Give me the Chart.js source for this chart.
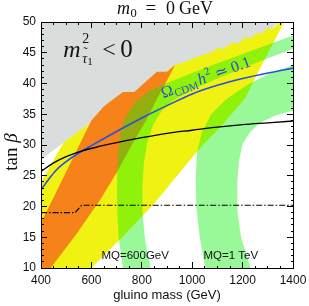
<!DOCTYPE html>
<html>
<head>
<meta charset="utf-8">
<script src="https://cdn.jsdelivr.net/npm/chart.js@4.4.0/dist/chart.umd.min.js"></script>
<style>
  html, body { margin: 0; padding: 0; background: #fff; }
  #wrap { width: 309px; height: 306px; }
</style>
</head>
<body>
<div id="wrap"><canvas id="chart"></canvas></div>
<script>
// gluino mass (GeV) vs tan(beta)
const xMajor = [400, 600, 800, 1000, 1200, 1400];
const yMajor = [10, 15, 20, 25, 30, 35, 40, 45, 50];

// grey: m^2(stau1) < 0 (lower edge hidden under yellow/orange past 590)
const stauRegion = [[400, 50], [1345, 50], [1210, 45], [1000, 41], [800, 37], [590, 33.4], [490, 30.4], [400, 27.6]];

const yellowBand = [[400, 24], [490, 30.4], [590, 33.4], [932, 43.0], [970, 43.5], [1010, 44.2], [1050, 44.7],
  [1084, 45.2], [1104, 45.9], [1117, 45.5], [1163, 46.7], [1177, 46.4], [1216, 47.6], [1229, 47.3],
  [1262, 48.3], [1276, 48.0], [1302, 49.1], [1315, 48.8], [1348, 50], [1365, 50], [1290, 44.1],
  [1210, 37.6], [1120, 33.3], [1031, 29.5], [940, 25.0], [845, 20.3], [720, 14.9], [600, 10], [400, 10]];

const orangeBand = [[400, 10], [438, 10], [540, 15.5], [635, 21.1], [700, 25.5], [760, 30], [810, 33.5],
  [860, 37.5], [900, 40.5], [932, 43.0], [900, 41.9], [860, 41.9], [770, 38.6], [725, 38.6],
  [650, 36.3], [600, 34.0], [400, 17.3]];

const mq600Band = [[725, 10], [708, 15], [702, 20], [702, 25], [706, 29], [716, 32], [735, 34.5], [770, 36.8],
  [830, 38.8], [900, 40.1], [1000, 41.7], [1100, 43.3], [1200, 44.8], [1300, 46.3], [1400, 47.8],
  [1400, 45.6], [1300, 44.1], [1200, 42.5], [1100, 40.8], [1000, 39.0], [930, 37.4], [880, 35.6],
  [845, 33.3], [822, 30.5], [808, 27], [802, 23], [803, 19], [813, 14.5], [835, 10]];

const mq1000Band = [[1052, 10], [1030, 15], [1016, 20], [1014, 25], [1020, 29], [1038, 32], [1075, 35],
  [1140, 37.6], [1220, 39.8], [1300, 41.5], [1400, 43], [1400, 35.6], [1330, 34.8], [1270, 33.6],
  [1230, 32.1], [1200, 30.2], [1186, 27.5], [1179, 24], [1180, 19], [1194, 15], [1232, 10]];

const omegaLine = [[400, 22.7], [430, 24.4], [460, 25.9], [500, 27.3], [550, 28.7], [600, 29.9], [700, 32.2],
  [800, 34.4], [900, 36.4], [1000, 38.3], [1100, 39.7], [1200, 40.8], [1300, 41.7], [1400, 42.5]];

const blackLine = [[400, 25.7], [450, 27.1], [500, 28.1], [560, 29.0], [635, 29.8], [700, 30.4], [800, 31.2],
  [900, 31.9], [1000, 32.4], [1100, 32.9], [1200, 33.3], [1300, 33.6], [1400, 33.9]];

const dashDotLine = [[400, 19.0], [535, 19.0], [561, 20.2], [1400, 20.2]];

const toPoints = arr => arr.map(([x, y]) => ({ x, y }));

function region(label, arr, color, order) {
  return {
    label, data: toPoints(arr), showLine: true, fill: 'shape',
    backgroundColor: color, borderWidth: 0, pointRadius: 0, pointHoverRadius: 0,
    tension: 0, order
  };
}

function curve(label, arr, color, width, dash, smooth) {
  return {
    label, data: toPoints(arr), showLine: true, fill: false,
    borderColor: color, borderWidth: width, borderDash: dash,
    pointRadius: 0, pointHoverRadius: 0,
    cubicInterpolationMode: smooth ? 'monotone' : 'default', tension: 0, order: 1
  };
}

const green = 'rgba(0, 240, 0, 0.4)';

// tick marks point inwards; minor ones drawn shorter through the dash pattern
const fromBorder = isMajor => ctx => isMajor(ctx.tick.value) ? [] : [3, 20];
const toBorder = isMajor => ctx => isMajor(ctx.tick.value) ? [] : [0, 3, 3, 20];
const xIsMajor = v => xMajor.includes(v);
const yIsMajor = v => yMajor.includes(v);

const tickFont = { family: '"Liberation Sans", Arial, sans-serif', size: 12 };

function axisGrid(dash) {
  return { drawOnChartArea: false, drawTicks: true, tickLength: -6, tickColor: '#000', tickWidth: 1, z: 1, tickBorderDash: dash };
}
const frame = { display: true, color: '#000', width: 1, z: 1 };

// keep the plot box where the figure has it
const fixHeight = h => s => { s.height = h; s.paddingLeft = 0; s.paddingRight = 0; };
const fixWidth = w => s => { s.width = w; s.paddingTop = 0; s.paddingBottom = 0; };

const serif = '"Liberation Serif", "DejaVu Serif", serif';

const annotations = {
  id: 'annotations',
  afterDraw(chart) {
    const { ctx } = chart;
    const sx = chart.scales.x, sy = chart.scales.y;
    const px = v => sx.getPixelForValue(v), py = v => sy.getPixelForValue(v);
    const put = (t, font, x, y, color) => {
      ctx.font = font; ctx.fillStyle = color || '#111'; ctx.fillText(t, x, y);
      return x + ctx.measureText(t).width;
    };
    ctx.save();
    ctx.textBaseline = 'alphabetic';
    ctx.textAlign = 'left';

    // title  m_0 = 0 GeV
    put('m', 'italic 18px ' + serif, 117, 13.5);
    put('0', '12.5px ' + serif, 130.5, 17);
    put('=', '19px ' + serif, 145.5, 13.5);
    put('0', '18px ' + serif, 166, 13.5);
    put('GeV', '18px ' + serif, 179, 13.5);

    // m^2_{stau1} < 0
    let x0 = px(488), y0 = py(44.3);
    put('m', 'italic 24px ' + serif, x0, y0);
    put('2', '14px ' + serif, x0 + 19, y0 - 14);
    let e = put('\u03c4', 'italic 14px ' + serif, x0 + 19, y0 + 6);
    put('\u02dc', '13px ' + serif, x0 + 20, y0 - 1);
    put('1', '11px ' + serif, e, y0 + 8);
    put('<', '24px ' + serif, x0 + 39, y0);
    put('0', '25px ' + serif, x0 + 57, y0);

    // Omega_CDM h^2 ~ 0.1 along the relic density line
    ctx.save();
    ctx.translate(px(885), py(37.6));
    ctx.rotate(-0.35);
    const blue = '#2b4bd6';
    e = put('\u03a9', '16px ' + serif, 0, 0, blue);
    e = put('CDM', '11px ' + serif, e + 0.5, 3, blue);
    e = put('h', 'italic 16px ' + serif, e + 1.5, 0, blue);
    e = put('2', '11px ' + serif, e + 0.5, -7, blue);
    e = put('\u2243', '16px ' + serif, e + 4, 0, blue);
    put('0.1', '16px ' + serif, e + 4, 0, blue);
    ctx.restore();

    // squark mass labels
    const sans = '11.5px "Liberation Sans", Arial, sans-serif';
    put('MQ=600GeV', sans, px(640), py(11.4));
    put('MQ=1 TeV', sans, px(1045), py(11.4));

    // y title  tan(beta)
    ctx.save();
    ctx.translate(17, 152);
    ctx.rotate(-Math.PI / 2);
    ctx.font = '19px ' + serif;
    const w1 = ctx.measureText('tan ').width;
    ctx.font = 'italic 19px ' + serif;
    const w2 = ctx.measureText('\u03b2').width;
    e = put('tan ', '19px ' + serif, -(w1 + w2) / 2, 0);
    put('\u03b2', 'italic 19px ' + serif, e, 0);
    ctx.restore();

    ctx.restore();
  }
};

new Chart(document.getElementById('chart'), {
  type: 'scatter',
  data: {
    datasets: [
      curve('tan beta bound', blackLine, '#000', 1.3, [], true),
      curve('Omega h^2 = 0.1', omegaLine, '#2a4fe0', 1.6, [], true),
      curve('dash-dot bound', dashDotLine, '#000', 1.2, [6, 2, 1.5, 2], false),
      region('MQ = 1 TeV', mq1000Band, green, 5),
      region('MQ = 600 GeV', mq600Band, green, 6),
      region('orange', orangeBand, '#f6821a', 7),
      region('yellow', yellowBand, '#f0f212', 8),
      region('stau tachyonic', stauRegion, '#d9dddb', 9)
    ]
  },
  options: {
    responsive: true,
    maintainAspectRatio: false,
    animation: false,
    events: [],
    layout: { padding: 0 },
    plugins: { legend: { display: false }, tooltip: { enabled: false }, title: { display: false } },
    scales: {
      x: {
        type: 'linear', position: 'bottom', min: 400, max: 1400,
        ticks: { stepSize: 50, autoSkip: false, maxRotation: 0, padding: 11, color: '#111', font: tickFont,
          callback: v => xIsMajor(v) ? v : '' },
        grid: axisGrid(fromBorder(xIsMajor)),
        border: frame,
        title: { display: true, text: 'gluino mass (GeV)', color: '#111',
          font: { family: '"Liberation Sans", Arial, sans-serif', size: 13 }, padding: { top: 0, bottom: 3 } },
        afterFit: fixHeight(38)
      },
      xTop: {
        type: 'linear', axis: 'x', position: 'top', min: 400, max: 1400,
        ticks: { stepSize: 50, autoSkip: false, display: false },
        grid: axisGrid(toBorder(xIsMajor)),
        border: frame,
        afterFit: fixHeight(22)
      },
      y: {
        type: 'linear', position: 'left', min: 10, max: 50,
        ticks: { stepSize: 1, autoSkip: false, padding: 11, color: '#111', font: tickFont,
          callback: v => yIsMajor(v) ? v : '' },
        grid: axisGrid(toBorder(yIsMajor)),
        border: frame,
        afterFit: fixWidth(41)
      },
      yRight: {
        type: 'linear', axis: 'y', position: 'right', min: 10, max: 50,
        ticks: { stepSize: 1, autoSkip: false, display: false },
        grid: axisGrid(fromBorder(yIsMajor)),
        border: frame,
        afterFit: fixWidth(16)
      }
    }
  },
  plugins: [annotations]
});
</script>
</body>
</html>
